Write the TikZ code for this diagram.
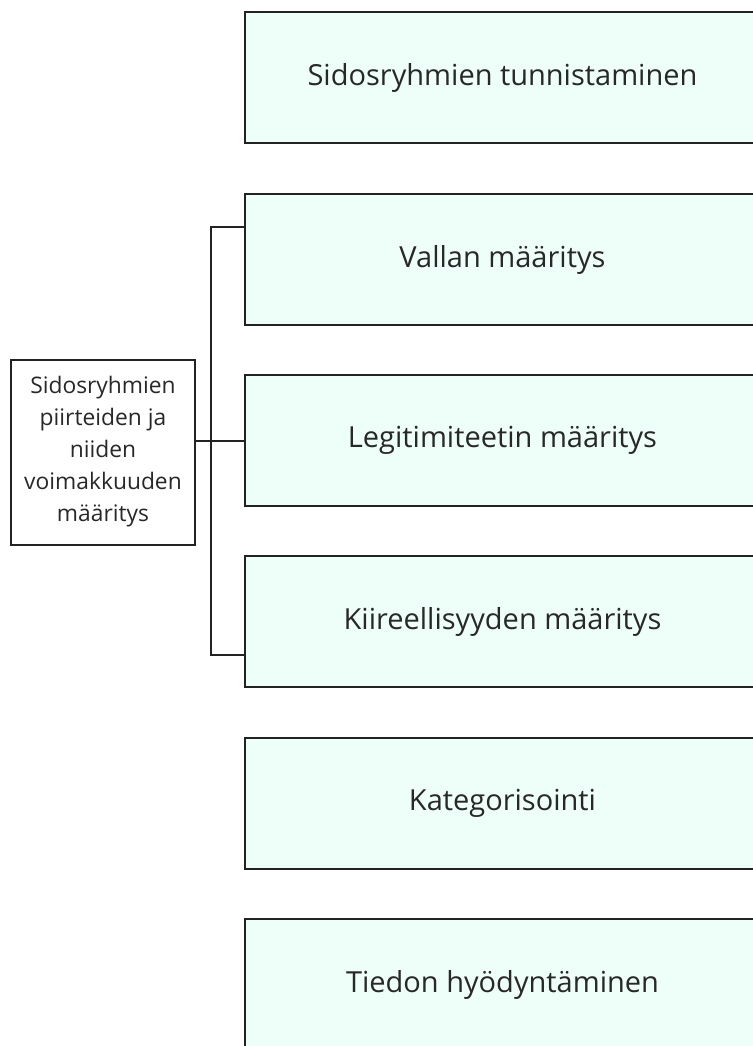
\documentclass[tikz,border=0pt]{standalone}
\usepackage{fontspec}
\setmainfont{Open Sans}
\definecolor{mint}{RGB}{238,255,249}
\definecolor{edge}{RGB}{34,34,34}
\definecolor{txt}{RGB}{40,40,40}
\begin{document}
\begin{tikzpicture}[x=1pt,y=-1pt,
  stagebox/.style={draw=edge,line width=2pt,fill=mint,rectangle,minimum width=515pt,minimum height=131pt,inner sep=0pt,text=txt,font=\fontsize{29}{34}\selectfont},
  sidebox/.style={draw=edge,line width=2pt,fill=white,rectangle,minimum width=184pt,minimum height=185pt,inner sep=0pt,text=txt,align=center,font=\fontsize{22.8}{32}\selectfont},
  link/.style={draw=edge,line width=2pt}]
\useasboundingbox (0,0) rectangle (752,1046);
\node[stagebox] (s1) at (502.5,77.5) {Sidosryhmien tunnistaminen};
\node[stagebox] (s2) at (502.5,259.5) {Vallan määritys};
\node[stagebox] (s3) at (502.5,440.5) {Legitimiteetin määritys};
\node[stagebox] (s4) at (502.5,621.5) {Kiireellisyyden määritys};
\node[stagebox] (s5) at (502.5,803) {Kategorisointi};
\node[stagebox] (s6) at (502.5,984.5) {Tiedon hyödyntäminen};
\node[sidebox] (side) at (103,452) {Sidosryhmien\\piirteiden ja\\niiden\\voimakkuuden\\määritys};
\coordinate (top) at ([yshift=33pt]s2.west);
\coordinate (bot) at ([yshift=-33pt]s4.west);
\draw[link] (top) -- ++(-33,0) |- (bot);
\draw[link] (side.east |- s3.west) -- (s3.west);
\end{tikzpicture}
\end{document}
